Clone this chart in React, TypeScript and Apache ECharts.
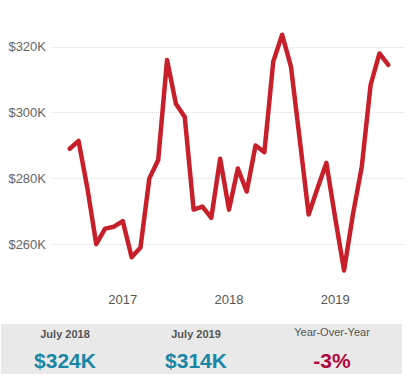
import React, { useEffect, useRef } from "react";
import * as echarts from "echarts";

const months = [
  "2016-07", "2016-08", "2016-09", "2016-10", "2016-11", "2016-12",
  "2017-01", "2017-02", "2017-03", "2017-04", "2017-05", "2017-06",
  "2017-07", "2017-08", "2017-09", "2017-10", "2017-11", "2017-12",
  "2018-01", "2018-02", "2018-03", "2018-04", "2018-05", "2018-06",
  "2018-07", "2018-08", "2018-09", "2018-10", "2018-11", "2018-12",
  "2019-01", "2019-02", "2019-03", "2019-04", "2019-05", "2019-06",
  "2019-07",
];

// values in $K
const values = [
  289, 291.4, 277, 260, 264.7, 265.3, 267, 256, 259, 280,
  285.6, 316, 302.7, 298.7, 270.5, 271.4, 268, 286, 270.5, 283,
  276, 290, 288, 315.5, 323.7, 314, 291.7, 269, 277, 284.7,
  268, 252, 269, 283.5, 308.4, 318, 314.5,
];

const yTicks = [260, 280, 300, 320];
const yearLabelMonths = ["2017-01", "2018-01", "2019-01"];

const kpiLabels = ["July 2018", "July 2019", "Year-Over-Year"];
const kpiValues = ["$324K", "$314K", "-3%"];

const FONT = "'Liberation Sans', Arial, sans-serif";

export default function App() {
  const ref = useRef<HTMLDivElement>(null);

  useEffect(() => {
    if (!ref.current) return;
    const chart = echarts.init(ref.current, null, { renderer: "svg" });
    const data = values.map((v, i) => [i, v]);
    const xLabelIdx = yearLabelMonths.map((m) => months.indexOf(m));

    const kpiX = [65, 196, 332];
    const kpiColors = ["#1a86a6", "#1a86a6", "#b0073b"];
    const graphics: any[] = [
      {
        type: "rect",
        shape: { x: 1, y: 324, width: 401, height: 50 },
        style: { fill: "#e9e9e9" },
        silent: true,
      },
    ];
    kpiLabels.forEach((t, i) => {
      graphics.push({
        type: "text",
        x: kpiX[i],
        y: i === 2 ? 332 : 334,
        style: {
          text: t,
          fontFamily: FONT,
          fontSize: 11,
          fontWeight: i === 2 ? "normal" : "bold",
          fill: "#555555",
          textAlign: "center",
          textVerticalAlign: "middle",
        },
      });
      graphics.push({
        type: "text",
        x: kpiX[i],
        y: 360,
        style: {
          text: kpiValues[i],
          fontFamily: FONT,
          fontSize: 21,
          fontWeight: "bold",
          fill: kpiColors[i],
          textAlign: "center",
          textVerticalAlign: "middle",
        },
      });
    });

    chart.setOption({
      animation: false,
      grid: { left: 52, right: 5, top: 14, bottom: 108, containLabel: false },
      xAxis: {
        type: "value",
        min: -2,
        max: 38,
        splitLine: { show: false },
        axisLine: { show: false },
        axisTick: { show: false },
        axisLabel: {
          customValues: xLabelIdx,
          margin: 16,
          color: "#555555",
          fontSize: 13,
          fontFamily: FONT,
          formatter: (v: number) => months[Math.round(v)]?.slice(0, 4) ?? "",
        },
      },
      yAxis: {
        type: "value",
        min: 250,
        max: 330,
        splitLine: { show: false },
        axisLine: { show: false },
        axisTick: { show: false },
        axisLabel: {
          customValues: yTicks,
          margin: 6,
          color: "#666666",
          fontSize: 13,
          fontFamily: FONT,
          formatter: (v: number) => "$" + v + "K",
        },
      },
      graphic: graphics,
      series: [
        {
          type: "line",
          data,
          showSymbol: false,
          symbol: "none",
          lineStyle: { color: "#c8202a", width: 4.5, cap: "round", join: "round" },
          markLine: {
            silent: true,
            symbol: ["none", "none"],
            label: { show: false },
            lineStyle: { color: "#dddddd", type: "dotted", width: 1 },
            data: yTicks.map((t) => ({ yAxis: t })),
            z: 1,
          },
          z: 3,
        },
      ],
    });
    return () => chart.dispose();
  }, []);

  return (
    <div
      ref={ref}
      style={{ position: "fixed", left: 0, top: 0, width: 411, height: 385, background: "#fff" }}
    />
  );
}
